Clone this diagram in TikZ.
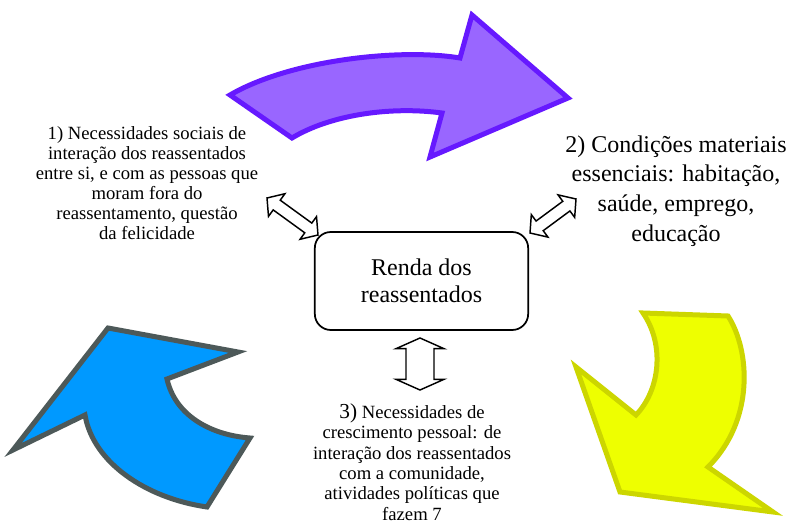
\documentclass[tikz,border=0pt]{standalone}
\usepackage{fontspec}
\setmainfont{Liberation Serif}
\usepackage{tikz}
\usetikzlibrary{calc}

\definecolor{roxoborda}{HTML}{6619FF}
\definecolor{roxofundo}{HTML}{9966FF}
\definecolor{azulborda}{HTML}{4D5959}
\definecolor{azulfundo}{HTML}{0099FF}
\definecolor{amareloborda}{HTML}{CCD600}
\definecolor{amarelofundo}{HTML}{EEFF00}

\tikzset{
  setacurva/.style={line width=3.75pt, line join=miter},
  caixa/.style={draw, line width=1.3pt, rounded corners=12pt,
    minimum width=160pt, minimum height=73.5pt, align=center,
    font=\fontsize{18}{20}\selectfont},
  texto/.style={align=center, inner sep=0pt},
  dupla/.style={draw, fill=white, line width=1.1pt, line join=miter}
}

% seta dupla vazada entre duas pontas: #3 cabeca, #4 meia haste, #5 meia aba
\newcommand{\duplaseta}[5]{%
  \coordinate (p1) at ($(#1)!#3!(#2)$);
  \coordinate (p2) at ($(#2)!#3!(#1)$);
  \draw[dupla] (#1) -- ($(p1)!#5!90:(#2)$) -- ($(p1)!#4!90:(#2)$)
    -- ($(p2)!#4!270:(#1)$) -- ($(p2)!#5!270:(#1)$) -- (#2)
    -- ($(p2)!#5!90:(#1)$) -- ($(p2)!#4!90:(#1)$)
    -- ($(p1)!#4!270:(#2)$) -- ($(p1)!#5!270:(#2)$) -- cycle;}

\begin{document}
\begin{tikzpicture}[x=0.75pt,y=-0.75pt]
  \useasboundingbox (0,0) rectangle (790,527);

  % setas curvas
  \draw[setacurva, draw=roxoborda, fill=roxofundo]
    (230,95) .. controls (290,60) and (400,48) .. (460,58)
    -- (472,15) -- (568,98) -- (430,157) -- (442,113)
    .. controls (390,106) and (330,115) .. (292,138) -- cycle;

  \draw[setacurva, draw=amareloborda, fill=amarelofundo]
    (643,313) -- (728,316)
    .. controls (750,350) and (755,420) .. (708,467)
    -- (773,512) -- (620,492) -- (576,367) -- (636,415)
    .. controls (660,390) and (665,345) .. (643,313) -- cycle;

  \draw[setacurva, draw=azulborda, fill=azulfundo]
    (108,328) -- (238,352) -- (167,379)
    .. controls (175,415) and (210,435) .. (250,438)
    -- (207,507)
    .. controls (145,498) and (93,462) .. (85,415)
    -- (13,450) -- cycle;

  % caixa central
  \node[caixa] (renda) at (421.5,281) {Renda dos\\reassentados};

  % textos
  \node[texto, font=\fontsize{14}{15}\selectfont] (sociais) at (147,183)
    {1) Necessidades sociais de\\interação dos reassentados\\entre si, e com as pessoas que\\moram fora do\\reassentamento, questão\\da felicidade};
  \node[texto, font=\fontsize{18}{22.3}\selectfont] (materiais) at (676,191)
    {2) Condições materiais\\essenciais: habitação,\\saúde, emprego,\\educação};
  \node[texto, font=\fontsize{14}{15.3}\selectfont] (pessoal) at (412,462)
    {{\fontsize{16}{15.3}\selectfont 3)} Necessidades de\\crescimento pessoal: de\\interação dos reassentados\\com a comunidade,\\atividades políticas que\\fazem 7};

  % setas duplas
  \coordinate (s1a) at (267,198);
  \coordinate (s1b) at (318,235);
  \coordinate (s2a) at (530,233);
  \coordinate (s2b) at (576,199);
  \coordinate (s3a) at (420,338);
  \coordinate (s3b) at (420,390);
  \duplaseta{s1a}{s1b}{9pt}{4.5pt}{10.5pt}
  \duplaseta{s2a}{s2b}{9pt}{4.5pt}{10.5pt}
  \duplaseta{s3a}{s3b}{8pt}{10.5pt}{18pt}

\end{tikzpicture}
\end{document}
